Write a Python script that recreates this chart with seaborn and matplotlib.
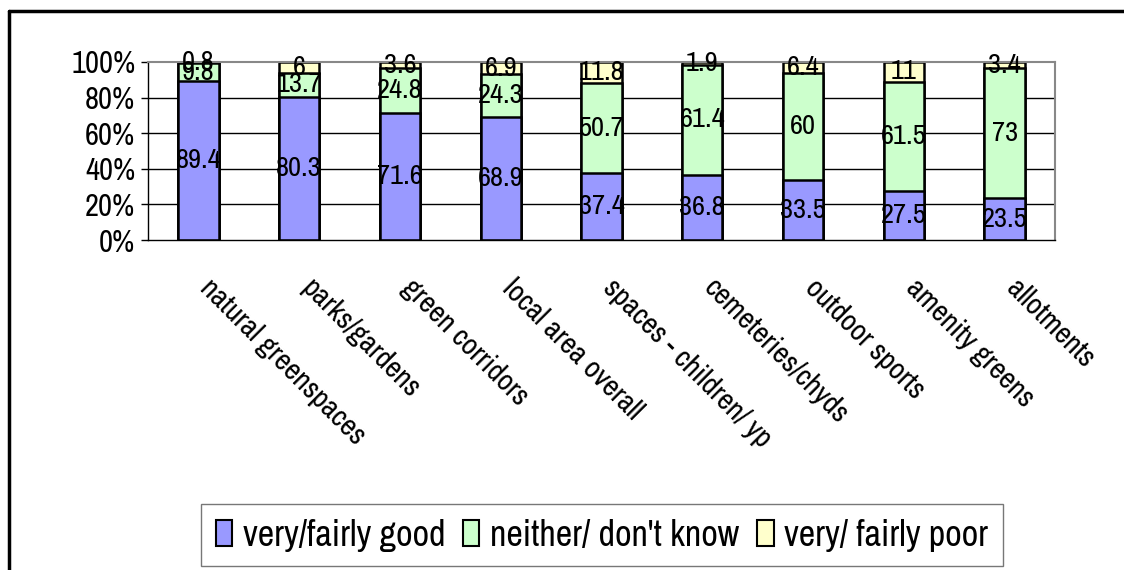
import matplotlib
matplotlib.use("Agg")
import matplotlib.pyplot as plt
import matplotlib.transforms as mtransforms
import seaborn as sns
import numpy as np
import pandas as pd
from matplotlib.patches import Patch
from matplotlib.lines import Line2D
from matplotlib.ticker import FixedLocator, PercentFormatter

categories = ["natural greenspaces", "parks/gardens", "green corridors", "local area overall",
              "spaces - children/ yp", "cemeteries/chyds", "outdoor sports", "amenity greens", "allotments"]
good = [89.4, 80.3, 71.6, 68.9, 37.4, 36.8, 33.5, 27.5, 23.5]
neither = [9.8, 13.7, 24.8, 24.3, 50.7, 61.4, 60, 61.5, 73]
poor = [0.8, 6, 3.6, 6.9, 11.8, 1.9, 6.4, 11, 3.4]
series_names = ["very/fairly good", "neither/ don't know", "very/ fairly poor"]
colors = ["#9999FF", "#CCFFCC", "#FFFFCC"]

sns.set_style("white")
plt.rcParams['font.family'] = ['Archivo Narrow', 'DejaVu Sans']
plt.rcParams['text.color'] = 'black'
plt.rcParams['xtick.color'] = 'black'
plt.rcParams['ytick.color'] = 'black'

g = np.array(good); n = np.array(neither); p = np.array(poor)
tot = g + n + p
gp = g / tot * 100; np_ = n / tot * 100; pp = p / tot * 100
df = pd.DataFrame({"cat": categories, "l1": gp, "l2": gp + np_, "l3": gp + np_ + pp})

fig = plt.figure(figsize=(11.24, 5.70), dpi=100)
ax = fig.add_axes([148/1124, 1-240/570, (1055-148)/1124, (240-62)/570])
ax.set_axisbelow(True)
for y in [20, 40, 60, 80]:
    ax.axhline(y, color="black", lw=1, zorder=0)

for col, c in zip(["l3", "l2", "l1"], colors[::-1]):
    sns.barplot(data=df, x="cat", y=col, color=c, width=0.4, edgecolor="black",
                linewidth=1.8, saturation=1, ax=ax, zorder=2)

fs = 20.5
for i in range(len(categories)):
    ax.text(i, gp[i]/2, f"{good[i]:g}", ha="center", va="center", fontsize=fs, zorder=5)
    ax.text(i, gp[i] + np_[i]/2, f"{neither[i]:g}", ha="center", va="center", fontsize=fs, zorder=5)
    ax.text(i, gp[i] + np_[i] + pp[i]/2, f"{poor[i]:g}", ha="center", va="center", fontsize=fs, zorder=5)

ax.set_ylim(0, 100)
ax.set_xlim(-0.5, len(categories) - 0.5)
ax.yaxis.set_major_locator(FixedLocator([0, 20, 40, 60, 80, 100]))
ax.yaxis.set_major_formatter(PercentFormatter(decimals=0))
ax.tick_params(axis="y", labelsize=22, length=5, width=1, color="black", direction="out", pad=4, left=True)
ax.set_xticks(range(len(categories)))
ax.set_xticklabels([])
ax.tick_params(axis="x", which="major", length=0)
ax.xaxis.set_minor_locator(FixedLocator(np.arange(-0.5, len(categories), 1.0)))
ax.tick_params(axis="x", which="minor", length=8, width=1, color="black", direction="out")
ax.set_xlabel(""); ax.set_ylabel("")

trans = mtransforms.blended_transform_factory(ax.transData, ax.transAxes) + \
    mtransforms.ScaledTranslation(16/100, -34/100, fig.dpi_scale_trans)
for i, cat in enumerate(categories):
    ax.text(i, 0, cat, transform=trans, rotation=-45, rotation_mode="anchor",
            ha="left", va="top", fontsize=21.5, clip_on=False)

for s in ["top", "right"]:
    ax.spines[s].set_color("#888888"); ax.spines[s].set_linewidth(1.5)
for s in ["left", "bottom"]:
    ax.spines[s].set_color("black"); ax.spines[s].set_linewidth(1)

handles = [Patch(facecolor=c, edgecolor="black", linewidth=1.5) for c in colors]
leg = fig.legend(handles, series_names, loc="center", bbox_to_anchor=(602/1124, 1-535/570),
                 ncol=3, fontsize=26, frameon=True, fancybox=False, edgecolor="#555555",
                 handlelength=0.45, handleheight=0.7, handletextpad=0.3, columnspacing=0.5,
                 borderpad=0.4, borderaxespad=0)
leg.get_frame().set_linewidth(1)

# outer chart-area border (top and left visible)
fig.lines.append(Line2D([9/1124, 1.0], [1-11/570, 1-11/570], transform=fig.transFigure,
                        color="black", linewidth=2.5))
fig.lines.append(Line2D([9/1124, 9/1124], [0, 1-11/570], transform=fig.transFigure,
                        color="black", linewidth=2.5))
fig.savefig("out.png", dpi=100)
